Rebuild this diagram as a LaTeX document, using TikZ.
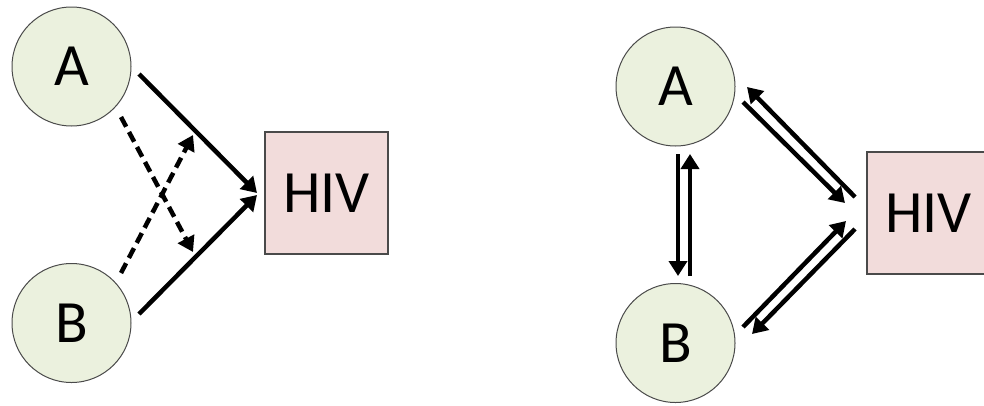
\documentclass[tikz,border=0pt]{standalone}
\usepackage{fontspec}
\setmainfont{Carlito}
\usetikzlibrary{arrows.meta}
\definecolor{cellfill}{HTML}{EBF1DE}
\definecolor{virusfill}{HTML}{F2DCDB}
\definecolor{edgegray}{HTML}{4A4A4A}
\tikzset{
  cell/.style={circle, draw=edgegray, line width=1pt, fill=cellfill,
    minimum size=119pt, inner sep=0pt, font=\fontsize{60}{64}\selectfont},
  virus/.style={rectangle, draw=edgegray, line width=1.3pt, fill=virusfill,
    minimum width=123pt, minimum height=122pt, inner sep=0pt,
    font=\fontsize{60}{64}\selectfont},
  link/.style={line width=4.5pt, -{Triangle[length=15pt,width=18pt]}},
  weaklink/.style={link, dash pattern=on 11pt off 6pt}
}
\begin{document}
\begin{tikzpicture}[x=1pt, y=-1pt]
  \useasboundingbox (0,0) rectangle (984,405);
  \clip (0,0) rectangle (984,405);

  % one-way model
  \node[cell]  (A1) at (71.5,66.5) {A};
  \node[cell]  (B1) at (71.5,323) {B};
  \node[virus] (V1) at (326.5,193) {HIV};

  \coordinate (a1s) at (139,74);   \coordinate (a1t) at (257,193);
  \coordinate (b1s) at (139,314);  \coordinate (b1t) at (257,195);
  \coordinate (a1d) at (121,117);  \coordinate (a1e) at (193,252);
  \coordinate (b1d) at (121,273);  \coordinate (b1e) at (193,135);

  \draw[link] (a1s) -- (a1t);
  \draw[link] (b1s) -- (b1t);
  \draw[weaklink] (a1d) -- (a1e);
  \draw[weaklink] (b1d) -- (b1e);

  % two-way model
  \node[cell]  (A2) at (675.5,86.5) {A};
  \node[cell]  (B2) at (675.5,343) {B};
  \node[virus] (V2) at (928.5,213) {HIV};

  \coordinate (ab1) at (678,154);  \coordinate (ab2) at (678,276);
  \coordinate (ba1) at (690,276);  \coordinate (ba2) at (690,154);
  \coordinate (va1) at (855,197);  \coordinate (va2) at (747,87);
  \coordinate (av1) at (743,102);  \coordinate (av2) at (845,203);
  \coordinate (bv1) at (743,327);  \coordinate (bv2) at (846,221);
  \coordinate (vb1) at (855,229);  \coordinate (vb2) at (752,334);

  \draw[link] (ab1) -- (ab2);
  \draw[link] (ba1) -- (ba2);
  \draw[link] (va1) -- (va2);
  \draw[link] (av1) -- (av2);
  \draw[link] (bv1) -- (bv2);
  \draw[link] (vb1) -- (vb2);
\end{tikzpicture}
\end{document}
